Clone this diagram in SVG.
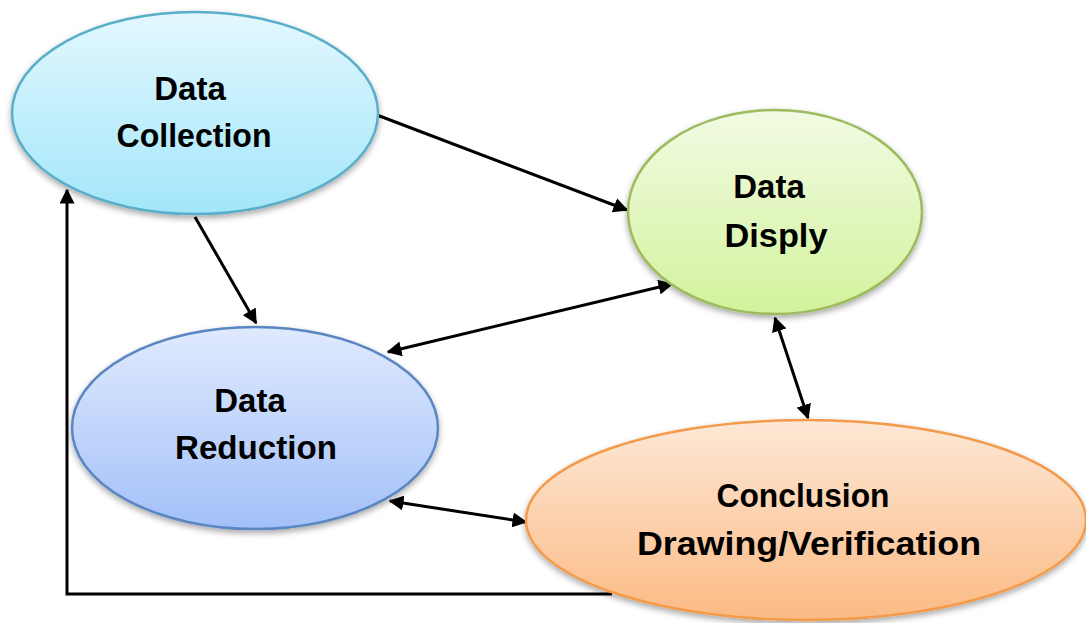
<svg xmlns="http://www.w3.org/2000/svg" width="1086" height="623" viewBox="0 0 1086 623">
<defs>
<linearGradient id="gC" x1="0" y1="0" x2="0" y2="1"><stop offset="0" stop-color="#e3f8fe"/><stop offset="1" stop-color="#a3e6fa"/></linearGradient>
<linearGradient id="gD" x1="0" y1="0" x2="0" y2="1"><stop offset="0" stop-color="#f2fbe3"/><stop offset="1" stop-color="#d3f29c"/></linearGradient>
<linearGradient id="gR" x1="0" y1="0" x2="0" y2="1"><stop offset="0" stop-color="#e0eafe"/><stop offset="1" stop-color="#a2c0f8"/></linearGradient>
<linearGradient id="gV" x1="0" y1="0" x2="0" y2="1"><stop offset="0" stop-color="#fde8d6"/><stop offset="1" stop-color="#fbba84"/></linearGradient>
<filter id="sh" x="-10%" y="-10%" width="120%" height="130%"><feGaussianBlur in="SourceAlpha" stdDeviation="3"/><feOffset dy="3"/><feComponentTransfer><feFuncA type="linear" slope="0.35"/></feComponentTransfer><feMerge><feMergeNode/><feMergeNode in="SourceGraphic"/></feMerge></filter>
<marker id="ah" viewBox="0 0 10 10" refX="9" refY="5" markerWidth="5" markerHeight="5" orient="auto-start-reverse" markerUnits="strokeWidth"><path d="M0,0 L10,5 L0,10 z" fill="#000"/></marker>
</defs>
<style>
.n ellipse{stroke-width:2.5;filter:url(#sh)}
.n text{font-family:"Liberation Sans",Arial,sans-serif;font-weight:bold;font-size:33px;fill:#000;text-anchor:middle}
.c path{fill:none;stroke:#000;stroke-width:3}
</style>
<rect width="1086" height="623" fill="#fff"/>
<g class="c" id="connectors">
<path d="M377,115 L627,210" marker-end="url(#ah)"/>
<path d="M195,217 L256,323" marker-end="url(#ah)"/>
<path d="M388,352 L672,284" marker-start="url(#ah)" marker-end="url(#ah)"/>
<path d="M775,318 L808,418" marker-start="url(#ah)" marker-end="url(#ah)"/>
<path d="M390,501 L526,522" marker-start="url(#ah)" marker-end="url(#ah)"/>
<path d="M612,594 L67,594 L67,190" marker-end="url(#ah)"/>
</g>
<g class="n" id="collection">
<ellipse cx="195" cy="113" rx="183" ry="101" fill="url(#gC)" stroke="#5aaec9"/>
<text x="190" y="100">Data</text>
<text x="194" y="147" textLength="155" lengthAdjust="spacingAndGlyphs">Collection</text>
</g>
<g class="n" id="display">
<ellipse cx="775" cy="212" rx="147" ry="102" fill="url(#gD)" stroke="#9cbb5d"/>
<text x="769" y="198">Data</text>
<text x="776" y="247" textLength="103" lengthAdjust="spacingAndGlyphs">Disply</text>
</g>
<g class="n" id="reduction">
<ellipse cx="255" cy="428" rx="183" ry="101" fill="url(#gR)" stroke="#5a86c2"/>
<text x="250" y="412">Data</text>
<text x="256" y="459" textLength="162" lengthAdjust="spacingAndGlyphs">Reduction</text>
</g>
<g class="n" id="conclusion">
<ellipse cx="806" cy="520" rx="280" ry="100" fill="url(#gV)" stroke="#f39a4b"/>
<text x="803" y="507" textLength="173" lengthAdjust="spacingAndGlyphs">Conclusion</text>
<text x="809" y="555" textLength="344" lengthAdjust="spacingAndGlyphs">Drawing/Verification</text>
</g>
</svg>
